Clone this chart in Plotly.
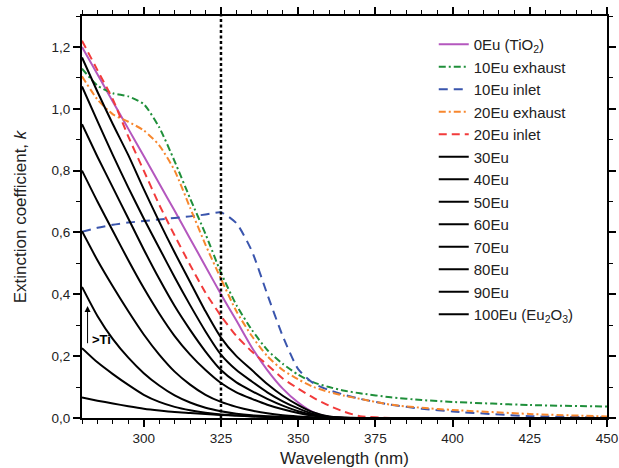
import plotly.graph_objects as go

# ---------------- data ----------------
wavelength = [280, 285, 290, 295, 300, 305, 310, 315, 320, 325, 330, 335, 340,
              345, 350, 355, 360, 365, 370, 380, 390, 400, 425, 450]

k_0eu = [1.20, 1.112, 1.023, 0.935, 0.847, 0.758, 0.67, 0.58, 0.49, 0.40, 0.315, 0.228,
         0.155, 0.095, 0.05, 0.018, 0.003, 0, 0, 0, 0, 0, 0, 0]
k_10eu_exhaust = [1.13, 1.075, 1.05, 1.04, 1.015, 0.94, 0.83, 0.71, 0.595, 0.47, 0.365, 0.285,
                  0.22, 0.175, 0.14, 0.115, 0.10, 0.088, 0.08, 0.067, 0.058, 0.052, 0.042, 0.037]
k_10eu_inlet = [0.602, 0.615, 0.625, 0.632, 0.637, 0.642, 0.647, 0.652, 0.658, 0.665, 0.63, 0.54,
                0.40, 0.265, 0.158, 0.112, 0.09, 0.075, 0.062, 0.043, 0.03, 0.021, 0.006, 0.002]
k_20eu_exhaust = [1.105, 1.03, 0.982, 0.958, 0.93, 0.882, 0.80, 0.68, 0.56, 0.45, 0.345, 0.265,
                  0.20, 0.155, 0.125, 0.10, 0.084, 0.072, 0.062, 0.043, 0.033, 0.026, 0.013, 0.005]
k_20eu_inlet = [1.22, 1.125, 1.03, 0.91, 0.80, 0.69, 0.59, 0.495, 0.405, 0.33, 0.265, 0.215,
                0.172, 0.128, 0.095, 0.065, 0.04, 0.02, 0.006, 0, 0, 0, 0, 0]
k_30eu = [1.166, 1.055, 0.95, 0.85, 0.74, 0.635, 0.535, 0.44, 0.345, 0.26, 0.2, 0.155,
          0.11, 0.072, 0.042, 0.018, 0.005, 0.001, 0, 0, 0, 0, 0, 0]
k_40eu = [1.072, 0.96, 0.85, 0.745, 0.645, 0.55, 0.455, 0.365, 0.28, 0.205, 0.155, 0.118,
          0.083, 0.054, 0.031, 0.013, 0.004, 0.001, 0, 0, 0, 0, 0, 0]
k_50eu = [0.95, 0.845, 0.745, 0.645, 0.545, 0.45, 0.362, 0.285, 0.215, 0.155, 0.115, 0.087,
          0.062, 0.04, 0.022, 0.01, 0.003, 0.001, 0, 0, 0, 0, 0, 0]
k_60eu = [0.80, 0.70, 0.605, 0.51, 0.42, 0.338, 0.265, 0.205, 0.155, 0.113, 0.083, 0.062,
          0.043, 0.028, 0.016, 0.007, 0.002, 0, 0, 0, 0, 0, 0, 0]
k_70eu = [0.604, 0.51, 0.425, 0.345, 0.27, 0.205, 0.15, 0.108, 0.075, 0.052, 0.036, 0.024,
          0.015, 0.009, 0.005, 0.002, 0.001, 0, 0, 0, 0, 0, 0, 0]
k_80eu = [0.424, 0.33, 0.255, 0.195, 0.145, 0.105, 0.073, 0.05, 0.033, 0.022, 0.014, 0.009,
          0.006, 0.004, 0.002, 0.001, 0, 0, 0, 0, 0, 0, 0, 0]
k_90eu = [0.226, 0.18, 0.142, 0.107, 0.075, 0.052, 0.036, 0.025, 0.017, 0.011, 0.008, 0.005,
          0.003, 0.002, 0.001, 0, 0, 0, 0, 0, 0, 0, 0, 0]
k_100eu = [0.066, 0.056, 0.047, 0.038, 0.03, 0.024, 0.019, 0.016, 0.013, 0.01, 0.008, 0.006,
           0.004, 0.003, 0.002, 0.001, 0, 0, 0, 0, 0, 0, 0, 0]

series_names = ["0Eu (TiO<sub>2</sub>)", "10Eu exhaust", "10Eu inlet", "20Eu exhaust",
                "20Eu inlet", "30Eu", "40Eu", "50Eu", "60Eu", "70Eu", "80Eu", "90Eu",
                "100Eu (Eu<sub>2</sub>O<sub>3</sub>)"]
series_values = [k_0eu, k_10eu_exhaust, k_10eu_inlet, k_20eu_exhaust, k_20eu_inlet,
                 k_30eu, k_40eu, k_50eu, k_60eu, k_70eu, k_80eu, k_90eu, k_100eu]

marker_wavelength = 325
arrow_x = 281.8
arrow_from = 0.237
arrow_to = 0.362
arrow_label = ">Ti"

x_tickvals = [300, 325, 350, 375, 400, 425, 450]
y_tickvals = [0.0, 0.2, 0.4, 0.6, 0.8, 1.0, 1.2]
y_ticktext = ["0,0", "0,2", "0,4", "0,6", "0,8", "1,0", "1,2"]

# ---------------- styles ----------------
BLACK = "#000000"
styles = [
    dict(color="#B457BE", dash="solid"),
    dict(color="#1F8F3A", dash="7px,3px,2px,3px"),
    dict(color="#3A55AD", dash="9px,6px"),
    dict(color="#F7872E", dash="7px,3px,2px,3px"),
    dict(color="#F23B3B", dash="8px,5px"),
] + [dict(color=BLACK, dash="solid")] * 8

FONT = "Arial, Liberation Sans, sans-serif"

fig = go.Figure()
for name, vals, st in zip(series_names, series_values, styles):
    fig.add_trace(go.Scatter(
        x=wavelength, y=vals, name=name, mode="lines",
        line=dict(color=st["color"], dash=st["dash"], width=2, shape="spline", smoothing=0.6),
    ))

fig.add_vline(x=marker_wavelength, line=dict(color=BLACK, width=2.5, dash="3px,2.5px"))

fig.add_annotation(x=arrow_x, y=arrow_to, ax=arrow_x, ay=arrow_from, xref="x", yref="y",
                   axref="x", ayref="y", text="", showarrow=True, arrowhead=2,
                   arrowsize=1.2, arrowwidth=1, arrowcolor=BLACK)
fig.add_annotation(x=arrow_x + 0.9, y=arrow_from + 0.018, xref="x", yref="y",
                   text="<b>" + arrow_label.replace(">", "&gt;") + "</b>", showarrow=False,
                   xanchor="left", yanchor="middle",
                   font=dict(family=FONT, size=13, color=BLACK))

axis_common = dict(
    showline=True, linecolor=BLACK, linewidth=1.8, mirror="ticks",
    ticks="outside", ticklen=7, tickwidth=1.5, tickcolor=BLACK,
    showgrid=False, zeroline=False,
    tickfont=dict(family=FONT, size=13.5, color="#222"),
)

fig.update_xaxes(
    range=[280, 450], tickvals=x_tickvals,
    minor=dict(dtick=5, ticks="outside", ticklen=4, tickwidth=1.2, tickcolor=BLACK, showgrid=False),
    title=dict(text="Wavelength (nm)", font=dict(family=FONT, size=17, color="#222"), standoff=13),
    ticklabeloverflow="allow",
    **axis_common,
)
fig.update_yaxes(
    range=[0, 1.3], tickvals=y_tickvals, ticktext=y_ticktext,
    minor=dict(dtick=0.1, ticks="outside", ticklen=4, tickwidth=1.2, tickcolor=BLACK, showgrid=False),
    title=dict(text="Extinction coefficient, <i>k</i>", font=dict(family=FONT, size=17, color="#222"),
               standoff=21),
    **axis_common,
)

fig.update_layout(
    width=619, height=468,
    margin=dict(l=82, r=12, t=16, b=50, autoexpand=False),
    plot_bgcolor="white", paper_bgcolor="white",
    showlegend=True,
    legend=dict(x=0.67, y=0.97, xanchor="left", yanchor="top",
                bgcolor="rgba(0,0,0,0)", borderwidth=0,
                font=dict(family=FONT, size=15, color="#222"),
                tracegroupgap=0),
)

# remove the default 8px page margin so the figure fills the 619x468 window exactly
fig.write_html("out.html", config={"displayModeBar": False},
               post_script="document.body.style.margin='0';")
